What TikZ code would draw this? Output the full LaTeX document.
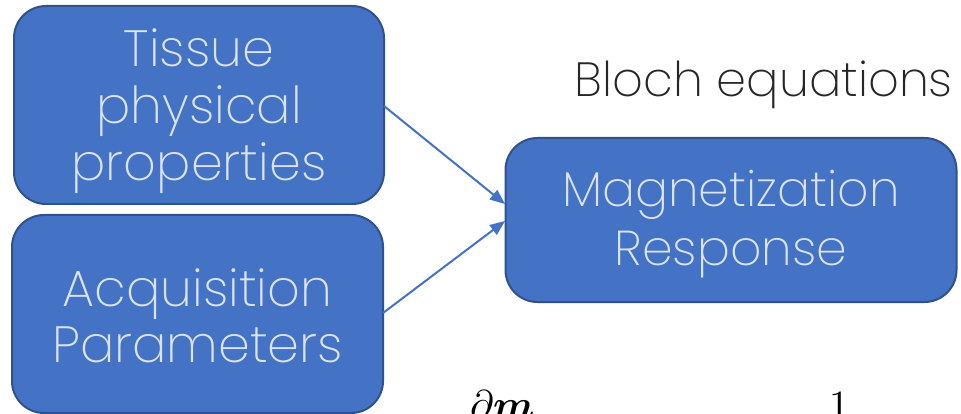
\documentclass[tikz,border=0pt]{standalone}
\usepackage{fontspec}
\usepackage{unicode-math}
\setmathfont{Latin Modern Math}
\usetikzlibrary{arrows.meta}
\IfFontExistsTF{Poppins ExtraLight}{\setmainfont{Poppins ExtraLight}}{%
  \IfFontExistsTF{Poppins Thin}{\setmainfont{Poppins Thin}}{\setmainfont{Poppins Light}}}
\definecolor{boxfill}{HTML}{4472C4}
\definecolor{boxline}{HTML}{2F528F}
\definecolor{boxtext}{HTML}{DAE3F3}
\definecolor{titletext}{HTML}{262626}
\tikzset{
  block/.style={draw=boxline, line width=2pt, fill=boxfill, rounded corners=32pt,
    text=boxtext, align=center, inner sep=0pt},
  link/.style={draw=boxfill, line width=2pt, -{Triangle[length=15pt,width=12pt]}},
}
\begin{document}
\begin{tikzpicture}[x=1pt, y=-1pt]
  \useasboundingbox (0,0) rectangle (961,414);
  \clip (0,0) rectangle (961,414);
  \fill[white] (0,0) rectangle (961,414);

  \node[block, minimum width=370pt, minimum height=198pt,
        font=\fontsize{51}{57}\selectfont] (tissue) at (199,105)
        {\rule{0pt}{50pt}Tissue\\physical\\properties};
  \node[block, minimum width=371pt, minimum height=198pt,
        font=\fontsize{51}{56}\selectfont] (acq) at (197.5,314)
        {\rule{0pt}{42pt}Acquisition\\Parameters};
  \node[block, minimum width=451pt, minimum height=164pt,
        font=\fontsize{49}{59}\selectfont] (mag) at (731,220)
        {\rule{0pt}{45pt}Magnetization\\Response};

  \node[anchor=base east, text=titletext, inner sep=0pt,
        font=\fontsize{48}{58}\selectfont] (bloch) at (953,97) {Bloch equations};

  \coordinate (tissueout) at (384,106);
  \coordinate (acqout) at (383,313);
  \coordinate (magin1) at (505,204);
  \coordinate (magin2) at (505,221);
  \draw[link] (tissueout) -- (magin1);
  \draw[link] (acqout) -- (magin2);

  \node[anchor=base west, inner sep=0pt, font=\fontsize{40}{40}\selectfont]
        (dm) at (470,418) {$\partial\symbfit{m}$};
  \node[anchor=base west, inner sep=0pt, font=\fontsize{40}{40}\selectfont]
        (one) at (829,418) {$1$};
\end{tikzpicture}
\end{document}
